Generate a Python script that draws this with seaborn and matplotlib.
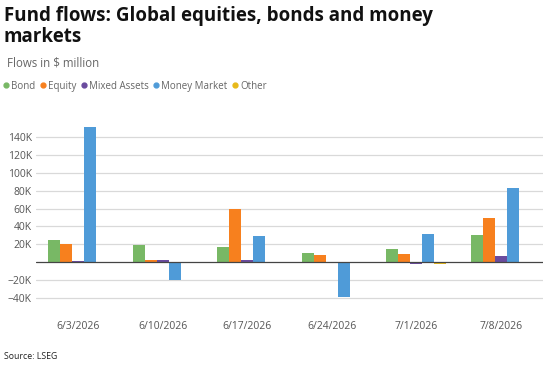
import matplotlib
matplotlib.use("Agg")
import matplotlib.pyplot as plt
import seaborn as sns
import pandas as pd
from matplotlib.lines import Line2D
from matplotlib.ticker import FuncFormatter

dates = ["6/3/2026", "6/10/2026", "6/17/2026", "6/24/2026", "7/1/2026", "7/8/2026"]
series = ["Bond", "Equity", "Mixed Assets", "Money Market", "Other"]
bond = [25000, 19500, 17000, 10400, 14900, 31000]
equity = [20800, 2500, 60000, 8200, 8900, 49000]
mixed = [1500, 2500, 2500, 300, -1800, 6700]
money_market = [151000, -19800, 29500, -38500, 32000, 83000]
other = [300, -1000, 300, 200, -1500, 300]
colors = ["#78b865", "#f7801e", "#6a4b9e", "#4f9bd8", "#e7b91a"]
yticks = [-40000, -20000, 20000, 40000, 60000, 80000, 100000, 120000, 140000]

rows = []
for name, vals in zip(series, [bond, equity, mixed, money_market, other]):
    for d, v in zip(dates, vals):
        rows.append({"date": d, "series": name, "value": v})
df = pd.DataFrame(rows)

sns.set_theme(style="white")
plt.rcParams["font.family"] = ["Open Sans", "DejaVu Sans"]

fig = plt.figure(figsize=(5.54, 3.71), dpi=100)
ax = fig.add_axes([0.065, 0.168, 0.915, 0.49])

sns.barplot(data=df, x="date", y="value", hue="series", order=dates,
            hue_order=series, palette=colors, width=0.71, gap=0,
            saturation=1, errorbar=None, legend=False, ax=ax, linewidth=0)

ax.set_ylim(-52000, 151500)
ax.set_xlim(-0.5, 5.5)
ax.set_yticks(yticks)
ax.yaxis.set_major_formatter(FuncFormatter(lambda v, p: f"{int(v/1000)}K".replace("-", "\u2212")))
ax.grid(axis="y", color="#d9d9d9", linewidth=0.9)
ax.set_axisbelow(True)
ax.axhline(0, color="#444444", linewidth=0.9, zorder=3)
for s in ax.spines.values():
    s.set_visible(False)
ax.tick_params(axis="both", length=0, labelsize=7.5, colors="#555555")
ax.tick_params(axis="x", pad=9)
ax.tick_params(axis="y", pad=3)
ax.set_xlabel("")
ax.set_ylabel("")

fig.text(0.007, 0.985, "Fund flows: Global equities, bonds and money\nmarkets",
         fontsize=13.5, fontweight="bold", va="top", ha="left", color="#111111",
         linespacing=1.1)
fig.text(0.012, 0.83, "Flows in $ million", fontsize=8.3, color="#666666", va="center")

handles = [Line2D([], [], marker="o", linestyle="", markersize=3.5, color=c) for c in colors]
fig.legend(handles, series, loc="center left", bbox_to_anchor=(-0.006, 0.768),
           ncol=5, frameon=False, fontsize=7, handletextpad=0.25,
           columnspacing=0.55, handlelength=0.5, labelcolor="#666666",
           borderpad=0.2)

fig.text(0.007, 0.038, "Source: LSEG", fontsize=6.3, color="#222222", va="center")

fig.savefig("out.png", dpi=100)
